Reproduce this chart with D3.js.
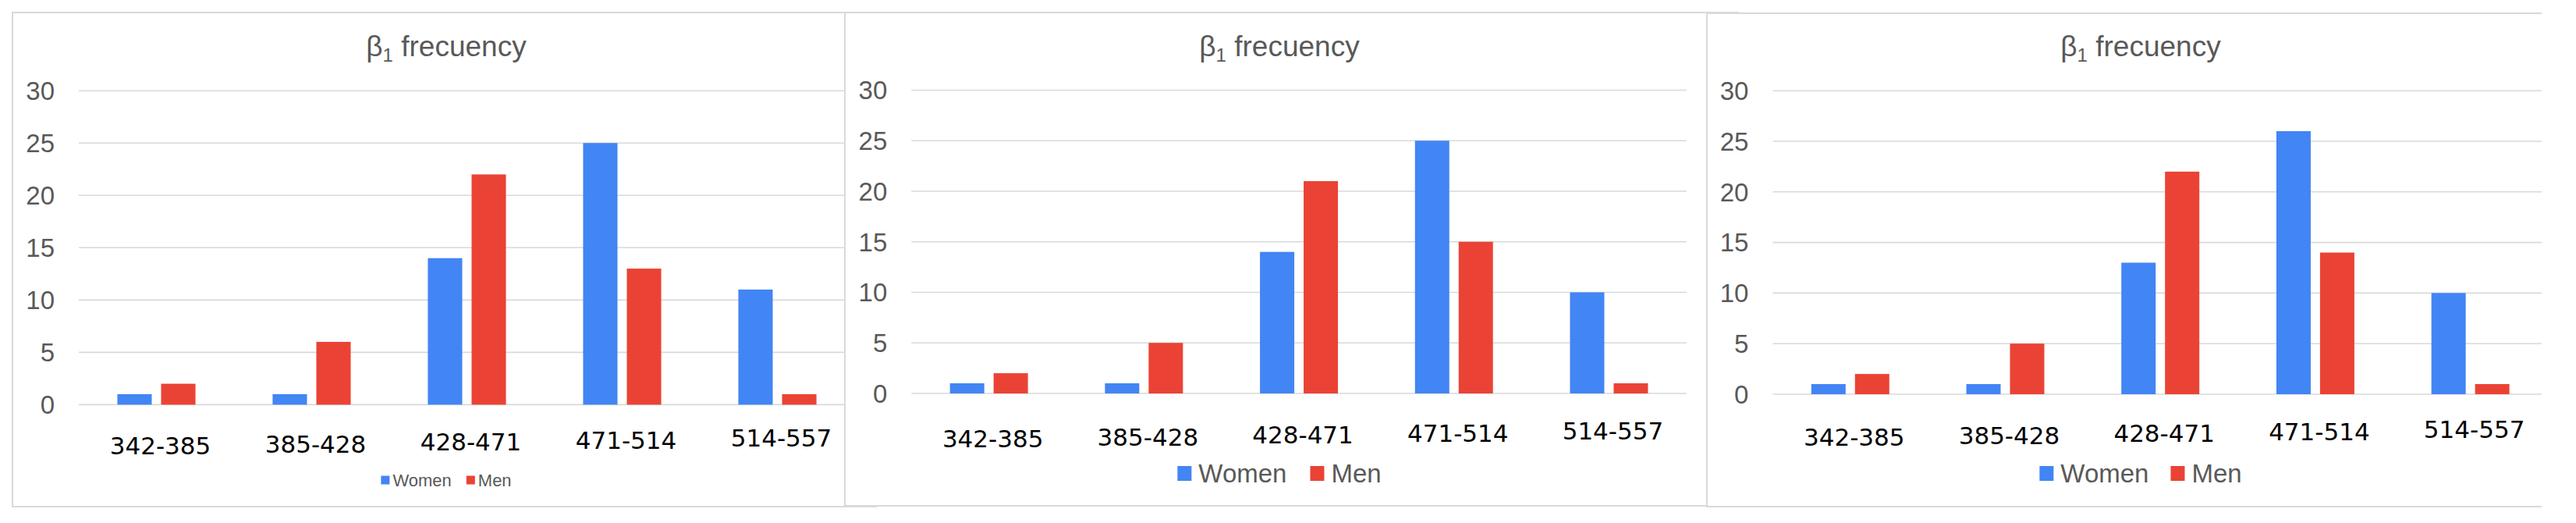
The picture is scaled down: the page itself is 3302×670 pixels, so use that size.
<!DOCTYPE html>
<html>
<head>
<meta charset="utf-8">
<script src="https://cdn.jsdelivr.net/npm/d3@7"></script>
<style>
  body { margin: 0; background: #fff; }
  svg { display: block; }
</style>
</head>
<body>
<div id="chart"></div>
<script>
const width = 3302;
const height = 670;

// data
const categories = ["342-385", "385-428", "428-471", "471-514", "514-557"];
const seriesNames = ["Women", "Men"];
const women1 = [1, 1, 14, 25, 11];
const men1 = [2, 6, 22, 13, 1];
const women2 = [1, 1, 14, 25, 10];
const men2 = [2, 5, 21, 15, 1];
const women3 = [1, 1, 13, 26, 10];
const men3 = [2, 5, 22, 14, 1];
const yTicks = [0, 5, 10, 15, 20, 25, 30];
const colors = ["#4285F4", "#EA4335"];

// panel layout (box, plot area, title/legend)
const panels = [
  { women: women1, men: men1, box: [16, 16, 1083, 649], plotX: [101, 1096], plotY: [518.4, 116.2],
    cx: 572, labelY: 582, legendSize: 22, legendSq: 11, legendGap: 4, legendSep: 19, legendY: 615 },
  { women: women2, men: men2, box: [1083, 16, 2188, 648], plotX: [1168.3, 2161.8], plotY: [504, 115.5],
    cx: 1640, labelY: 573, legendSize: 33, legendSq: 18, legendGap: 9, legendSep: 30, legendY: 606 },
  { women: women3, men: men3, box: [2188, 17, 3258, 649], plotX: [2272.4, 3266], plotY: [505, 116.2],
    cx: 2744, labelY: 571, legendSize: 33, legendSq: 18, legendGap: 9, legendSep: 28, legendY: 606, openRight: true }
];

const svg = d3.select("#chart")
  .append("svg")
  .attr("width", width)
  .attr("height", height);

const defs = svg.append("defs");

panels.forEach((p, pi) => {
  const [bx0, by0, bx1, by1] = p.box;

  defs.append("clipPath")
    .attr("id", "clip" + pi)
    .append("rect")
    .attr("x", bx0)
    .attr("y", by0)
    .attr("width", bx1 - bx0)
    .attr("height", by1 - by0);

  const g = svg.append("g");

  // white background so the next panel hides the previous overflow
  g.append("rect")
    .attr("x", bx0)
    .attr("y", by0)
    .attr("width", bx1 - bx0 + (p.openRight ? 0 : 40))
    .attr("height", by1 - by0)
    .attr("fill", "#fff");

  const inner = g.append("g").attr("clip-path", `url(#clip${pi})`);

  const x0 = d3.scaleBand()
    .domain(categories)
    .range(p.plotX)
    .padding(0);

  const x1 = d3.scaleBand()
    .domain(seriesNames)
    .range([0, x0.bandwidth()])
    .paddingInner(0.214)
    .paddingOuter(0.882);

  const y = d3.scaleLinear()
    .domain([0, 30])
    .range(p.plotY);

  // gridlines
  inner.append("g")
    .selectAll("line")
    .data(yTicks)
    .enter()
    .append("line")
    .attr("x1", p.plotX[0])
    .attr("x2", p.plotX[1])
    .attr("y1", d => y(d))
    .attr("y2", d => y(d))
    .attr("stroke", "#d9d9d9")
    .attr("stroke-width", 1.6);

  // y tick labels
  g.append("g")
    .selectAll("text")
    .data(yTicks)
    .enter()
    .append("text")
    .attr("x", p.plotX[0] - 31)
    .attr("y", d => y(d))
    .attr("dy", "0.36em")
    .attr("text-anchor", "end")
    .style("font-family", "'Liberation Sans', Arial, sans-serif")
    .style("font-size", "33px")
    .attr("fill", "#595959")
    .text(d => d);

  // bars
  const rows = categories.map((c, i) => ({ cat: c, vals: [p.women[i], p.men[i]] }));
  inner.append("g")
    .selectAll("g")
    .data(rows)
    .enter()
    .append("g")
    .attr("transform", d => `translate(${x0(d.cat)},0)`)
    .selectAll("rect")
    .data(d => d.vals.map((v, k) => ({ key: seriesNames[k], v: v, k: k })))
    .enter()
    .append("rect")
    .attr("x", d => x1(d.key))
    .attr("y", d => y(d.v))
    .attr("width", x1.bandwidth())
    .attr("height", d => y(0) - y(d.v))
    .attr("fill", d => colors[d.k]);

  // x labels (row slightly tilted upward in the original)
  inner.append("g")
    .selectAll("text")
    .data(categories)
    .enter()
    .append("text")
    .attr("x", d => x0(d) + x0.bandwidth() / 2 + 5)
    .attr("y", (d, i) => p.labelY - i * 2.5)
    .attr("text-anchor", "middle")
    .style("font-family", "'DejaVu Sans', sans-serif")
    .style("font-size", "31px")
    .attr("fill", "#000")
    .text(d => d);

  // title
  const title = g.append("text")
    .attr("x", p.cx)
    .attr("y", 72)
    .attr("text-anchor", "middle")
    .style("font-family", "'Liberation Sans', Arial, sans-serif")
    .style("font-size", "37px")
    .attr("fill", "#595959");
  title.append("tspan").text("β");
  title.append("tspan").attr("dy", 7).style("font-size", "24px").text("1");
  title.append("tspan").attr("dy", -7).text(" frecuency");

  // legend
  const legend = g.append("g");
  const items = legend.selectAll("g")
    .data(seriesNames)
    .enter()
    .append("g");
  items.append("rect")
    .attr("width", p.legendSq)
    .attr("height", p.legendSq + (p.legendSq > 12 ? 1 : 0))
    .attr("y", p.legendY - p.legendSq / 2)
    .attr("fill", (d, i) => colors[i]);
  items.append("text")
    .attr("x", p.legendSq + p.legendGap)
    .attr("y", p.legendY)
    .attr("dy", "0.36em")
    .style("font-family", "'Liberation Sans', Arial, sans-serif")
    .style("font-size", p.legendSize + "px")
    .attr("fill", "#595959")
    .text(d => d);
  let offset = 0;
  const widths = [];
  items.each(function () { widths.push(this.getBBox().width); });
  const total = d3.sum(widths) + p.legendSep;
  items.attr("transform", (d, i) => {
    const t = `translate(${p.cx - total / 2 + offset},0)`;
    offset += widths[i] + p.legendSep;
    return t;
  });

  // box border
  if (p.openRight) {
    g.append("path")
      .attr("d", `M${bx1},${by0}H${bx0}V${by1}H${bx1}`)
      .attr("fill", "none")
      .attr("stroke", "#d9d9d9")
      .attr("stroke-width", 2);
  } else {
    g.append("rect")
      .attr("x", bx0)
      .attr("y", by0)
      .attr("width", bx1 - bx0 + 40)
      .attr("height", by1 - by0)
      .attr("fill", "none")
      .attr("stroke", "#d9d9d9")
      .attr("stroke-width", 2);
  }
});
</script>
</body>
</html>
